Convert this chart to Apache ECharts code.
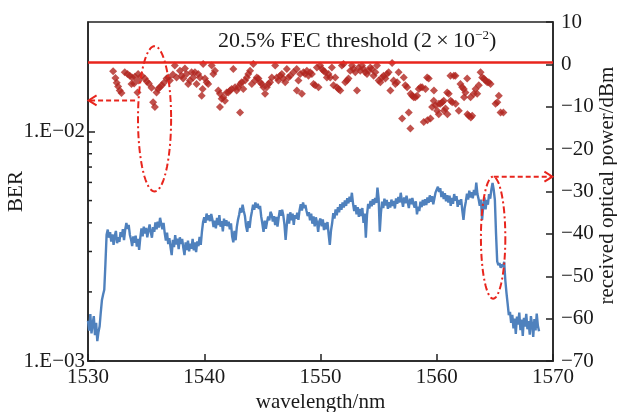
<!DOCTYPE html>
<html><head><meta charset="utf-8">
<script src="https://cdn.jsdelivr.net/npm/echarts@6/dist/echarts.min.js"></script>
<style>html,body{margin:0;padding:0;background:#fff}#c{width:617px;height:412px}</style>
</head><body><div id="c"></div>
<script>
// ---- data ----
const berWavelength = [
1532.16,1532.36,1532.47,1532.59,1532.73,1532.88,1533.16,1533.40,1533.59,1533.79,1534.03,1533.74,1533.97,1534.31,1534.37,1534.63,1534.89,1535.06,1535.23,1535.47,
1534.26,1535.60,1535.75,1535.90,1536.03,1536.18,1536.35,1536.53,1536.76,1536.90,1537.04,1537.30,1537.47,1537.62,1537.91,1538.05,1538.19,1538.34,1538.48,1538.62,
1538.77,1538.91,1539.05,1539.20,1539.34,1539.48,1539.63,1539.86,1539.91,1540.06,1540.21,1540.34,1540.64,1540.78,1540.92,1539.78,1541.21,1541.35,1541.50,1541.64,
1541.78,1541.93,1542.07,1541.35,1542.22,1542.36,1542.50,1542.65,1542.79,1542.93,1543.08,1543.10,1543.22,1543.36,1543.51,1543.66,1543.79,1543.94,1544.09,1544.22,
1544.37,1544.52,1544.66,1544.80,1544.95,1545.09,1545.23,1545.38,1545.52,1545.66,1545.81,1546.10,1546.24,1546.38,1546.53,1546.67,1546.81,1546.96,1547.10,1547.24,
1547.39,1547.67,1547.97,1548.10,1548.25,1547.95,1548.40,1548.53,1548.68,1548.83,1548.97,1549.11,1549.26,1549.40,1549.54,1549.69,1549.83,1549.97,1550.12,1550.26,
1550.41,1550.55,1550.69,1550.84,1550.98,1551.12,1551.27,1551.41,1551.55,1551.70,1551.84,1551.98,1552.13,1552.28,1552.41,1552.56,1552.71,1552.84,1552.99,1553.14,
1553.28,1553.42,1553.57,1553.71,1553.85,1554.00,1554.14,1554.28,1554.43,1554.57,1554.72,1554.86,1555.00,1555.15,1555.29,1555.43,1555.58,1555.72,1555.86,1556.01,
1556.16,1556.29,1556.44,1556.59,1556.72,1557.02,1557.16,1557.30,1557.45,1557.59,1557.73,1557.75,1557.88,1558.02,1558.16,1558.31,1558.45,1558.60,1558.74,1558.88,
1559.03,1559.17,1559.20,1559.31,1559.46,1559.60,1559.74,1559.76,1559.89,1560.03,1560.17,1560.19,1560.32,1560.47,1560.60,1560.62,1560.75,1560.90,1560.92,1561.03,
1561.18,1561.20,1561.33,1561.47,1561.61,1561.63,1561.90,1562.04,1562.19,1562.33,1562.35,1562.47,1562.62,1562.64,1562.76,1562.91,1562.93,1563.05,1563.19,1563.34,
1563.48,1563.62,1563.77,1563.91,1564.05,1564.20,1564.34,1564.48,1564.63,1565.06,1565.21,1565.34,1565.49,1565.73
];
const berValues = [
0.0183,0.0171,0.0163,0.0157,0.0151,0.0147,0.0181,0.0178,0.0175,0.0172,0.0173,0.0161,0.0162,0.0178,0.0167,0.0175,0.0170,0.0165,0.0162,0.0155,
0.0148,0.0134,0.0128,0.0148,0.0153,0.0156,0.0159,0.0163,0.0170,0.0172,0.0167,0.0177,0.0194,0.0172,0.0184,0.0175,0.0170,0.0188,0.0178,0.0161,
0.0167,0.0181,0.0172,0.0181,0.0161,0.0178,0.0172,0.0153,0.0197,0.0170,0.0164,0.0161,0.0194,0.0178,0.0184,0.0143,0.0151,0.0146,0.0139,0.0141,
0.0136,0.0148,0.0148,0.0128,0.0151,0.0153,0.0187,0.0156,0.0151,0.0156,0.0121,0.0161,0.0164,0.0153,0.0167,0.0172,0.0178,0.0184,0.0161,0.0197,
0.0167,0.0172,0.0170,0.0164,0.0161,0.0156,0.0146,0.0156,0.0161,0.0164,0.0172,0.0194,0.0172,0.0167,0.0175,0.0178,0.0170,0.0164,0.0187,0.0172,
0.0175,0.0181,0.0151,0.0167,0.0178,0.0187,0.0146,0.0181,0.0178,0.0184,0.0175,0.0181,0.0178,0.0161,0.0159,0.0190,0.0156,0.0194,0.0187,0.0184,
0.0181,0.0172,0.0178,0.0172,0.0190,0.0159,0.0172,0.0156,0.0153,0.0151,0.0194,0.0197,0.0164,0.0167,0.0170,0.0184,0.0194,0.0187,0.0181,0.0151,
0.0190,0.0184,0.0194,0.0187,0.0181,0.0178,0.0184,0.0190,0.0187,0.0175,0.0181,0.0194,0.0167,0.0164,0.0172,0.0175,0.0170,0.0178,0.0181,0.0151,
0.0199,0.0167,0.0161,0.0164,0.0181,0.0114,0.0172,0.0159,0.0156,0.0121,0.0103,0.0146,0.0143,0.0141,0.0141,0.0143,0.0153,0.0156,0.0156,0.0110,
0.0153,0.0172,0.0112,0.0170,0.0114,0.0128,0.0136,0.0151,0.0130,0.0123,0.0119,0.0132,0.0132,0.0134,0.0136,0.0123,0.0126,0.0148,0.0119,0.0146,
0.0175,0.0136,0.0134,0.0175,0.0175,0.0132,0.0123,0.0161,0.0156,0.0153,0.0141,0.0148,0.0170,0.0119,0.0117,0.0141,0.0115,0.0117,0.0146,0.0153,
0.0146,0.0159,0.0181,0.0172,0.0170,0.0167,0.0164,0.0164,0.0161,0.0132,0.0134,0.0143,0.0121,0.0121
];
const berThreshold = 0.02;
const berMinorTicks = [0.002,0.003,0.004,0.005,0.006,0.007,0.008,0.009];

const powerStartWavelength = 1530.0;
const powerStepWavelength = 0.1;
const powerValues = [
-60.5,-62.8,-58.9,-63.5,-61.2,-59.4,-63.9,-61.0,-65.3,-63.2,
-61.8,-58.5,-55.6,-54.3,-53.2,-47.0,-40.2,-39.0,-40.9,-39.6,
-41.8,-40.1,-42.6,-40.5,-39.3,-42.2,-40.8,-41.9,-39.6,-40.7,
-38.9,-41.5,-39.0,-37.4,-38.8,-37.9,-40.2,-41.3,-42.9,-40.6,
-42.1,-40.4,-43.0,-41.2,-43.8,-40.9,-38.7,-40.6,-38.3,-39.9,
-38.6,-40.8,-39.2,-37.8,-39.6,-40.9,-38.4,-39.5,-37.3,-38.9,
-37.1,-38.5,-36.2,-37.6,-38.9,-37.4,-39.8,-41.6,-39.7,-42.4,
-41.0,-43.2,-45.0,-41.4,-43.1,-40.3,-42.5,-41.1,-43.6,-40.8,
-42.4,-41.2,-43.3,-45.0,-42.0,-43.8,-41.6,-44.1,-42.3,-43.5,
-41.2,-43.9,-42.0,-44.3,-41.8,-42.9,-40.7,-42.6,-39.5,-37.2,
-36.1,-37.4,-35.2,-36.8,-35.6,-37.0,-35.3,-36.6,-38.4,-36.9,
-38.7,-36.2,-37.9,-35.6,-38.3,-37.0,-39.4,-36.4,-38.1,-36.8,
-38.2,-37.1,-38.9,-37.5,-40.6,-42.0,-39.3,-41.5,-38.4,-36.7,
-35.5,-33.9,-35.0,-33.1,-34.6,-35.8,-38.2,-39.5,-37.0,-38.6,
-36.2,-34.7,-33.1,-34.3,-32.6,-33.8,-32.9,-34.1,-33.4,-35.9,
-37.6,-39.5,-36.9,-38.8,-37.2,-35.9,-36.8,-34.8,-35.4,-37.1,
-35.8,-37.9,-36.0,-38.3,-36.2,-34.4,-35.7,-34.3,-35.6,-37.8,
-41.4,-38.0,-35.3,-37.6,-34.9,-36.8,-35.2,-37.9,-35.6,-36.4,
-35.0,-36.7,-34.4,-33.0,-34.5,-32.6,-33.9,-33.2,-34.6,-35.8,
-34.9,-36.8,-35.2,-37.6,-35.9,-38.2,-36.1,-37.3,-39.5,-37.0,
-36.4,-38.2,-36.6,-39.1,-37.4,-38.9,-37.2,-40.1,-42.6,-39.3,
-37.5,-35.1,-36.4,-34.2,-35.6,-33.7,-34.9,-33.0,-34.3,-32.6,
-33.8,-32.1,-33.4,-31.6,-32.8,-31.2,-32.4,-30.3,-32.9,-34.6,
-33.2,-35.4,-33.7,-36.0,-34.1,-35.8,-33.9,-37.4,-35.2,-40.9,
-35.6,-32.9,-34.0,-32.2,-33.5,-31.8,-33.1,-31.5,-32.7,-29.1,
-31.6,-39.5,-35.0,-32.4,-33.9,-31.7,-33.3,-32.0,-34.1,-32.5,
-33.8,-31.9,-33.4,-32.2,-34.0,-31.6,-32.9,-31.3,-32.6,-30.3,
-32.1,-33.6,-31.4,-32.8,-31.0,-32.5,-33.9,-31.7,-33.0,-31.5,
-32.9,-33.8,-32.3,-35.4,-33.6,-34.6,-32.4,-33.7,-32.0,-33.3,
-31.8,-33.2,-31.4,-32.7,-30.9,-32.4,-31.1,-33.0,-31.6,-30.2,
-29.5,-28.9,-30.1,-29.2,-31.3,-30.0,-31.8,-30.4,-32.3,-30.9,
-32.6,-31.0,-33.4,-31.5,-32.9,-30.6,-32.2,-31.1,-33.6,-32.0,
-33.1,-31.8,-34.5,-36.7,-33.9,-32.4,-30.5,-31.9,-29.8,-31.4,
-30.2,-31.6,-29.6,-30.9,-27.9,-30.6,-31.8,-33.4,-31.9,-36.7,
-33.5,-31.4,-34.2,-32.0,-33.1,-30.6,-31.7,-29.5,-28.0,-29.6,
-32.0,-40.0,-46.5,-47.4,-46.9,-48.0,-47.2,-47.8,-46.6,-51.0,
-54.0,-56.5,-59.2,-58.4,-61.0,-59.1,-62.3,-60.0,-63.6,-59.5,
-61.4,-58.6,-62.7,-60.2,-64.1,-59.8,-61.9,-58.9,-62.5,-60.6,
-63.8,-59.4,-61.5,-64.3,-60.1,-62.8,-58.8,-61.7,-63.0
];

// annotation anchors in data units (wavelength, dBm on right axis)
const ellipseBER = {wlMin:1534.3, wlMax:1537.15, dbmMin:-30, dbmMax:4.3};
const ellipsePower = {wlMin:1563.8, wlMax:1565.9, dbmMin:-55.3, dbmMax:-26.5};
const arrowBER = {from:[1534.05, -8.5], to:[1530.05, -8.5]};
const arrowPower = {from:[1564.9, -26.5], to:[1569.95, -26.5]};

// ---- build ----
const FONT = 'Liberation Serif';
const INK = '#1a1a1a';
const txt = {fontFamily: FONT, fontSize: 21, color: INK};
const berData = berWavelength.map((w, i) => [w, berValues[i]]);
const powerData = powerValues.map((v, i) => [+(powerStartWavelength + i * powerStepWavelength).toFixed(1), v]);
const minorTickData = berMinorTicks.map(v => [1530, v]);

function berLabel(v) {
  const e = Math.round(Math.log10(v));
  const a = Math.abs(e);
  return '1.E' + (e < 0 ? '\u2212' : '+') + (a < 10 ? '0' : '') + a;
}

const chart = echarts.init(document.getElementById('c'), null, {renderer: 'canvas'});
chart.setOption({
  animation: false,
  backgroundColor: '#fff',
  title: {
    text: '20.5% FEC threshold (2\u2009\u00d7\u200910{sup|\u22122})',
    left: 218, top: 29, padding: 0,
    textStyle: {fontFamily: FONT, fontSize: 22, fontWeight: 'normal', color: INK, lineHeight: 24,
      rich: {sup: {fontFamily: FONT, fontSize: 13, fontWeight: 'normal', color: INK, verticalAlign: 'top'}}}
  },
  grid: {left: 88, right: 64, top: 22, bottom: 51, show: true, borderColor: '#222', borderWidth: 1.5,
    backgroundColor: 'transparent', containLabel: false, outerBoundsMode: 'none'},
  xAxis: {
    type: 'value', min: 1530, max: 1570, interval: 10,
    axisLine: {onZero: false, lineStyle: {color: '#222', width: 1.5}},
    axisTick: {inside: true, length: 7, lineStyle: {color: '#222', width: 1.5}},
    axisLabel: Object.assign({margin: 6, formatter: v => String(v)}, txt),
    splitLine: {show: false},
    name: 'wavelength/nm', nameLocation: 'middle', nameGap: 31, nameMoveOverlap: false, nameTextStyle: txt
  },
  yAxis: [
    {
      type: 'log', min: 0.001, max: 0.03, position: 'left',
      axisLine: {show: true, onZero: false, lineStyle: {color: '#222', width: 1.5}},
      axisTick: {inside: true, length: 7, lineStyle: {color: '#222', width: 1.5}},
      axisLabel: Object.assign({margin: 3, showMaxLabel: false, formatter: berLabel}, txt),
      splitLine: {show: false}, minorTick: {show: false},
      name: 'BER', nameLocation: 'middle', nameRotate: 90, nameGap: 61, nameMoveOverlap: false, nameTextStyle: txt
    },
    {
      type: 'value', min: -70, max: 10, interval: 10, position: 'right',
      axisLine: {show: true, onZero: false, lineStyle: {color: '#222', width: 1.5}},
      axisTick: {inside: true, length: 7, lineStyle: {color: '#222', width: 1.5}},
      axisLabel: Object.assign({margin: 8, formatter: v => String(v).replace('-', '\u2212')}, txt),
      splitLine: {show: false},
      name: 'received optical power/dBm', nameLocation: 'middle', nameRotate: 90, nameGap: 44, nameMoveOverlap: false,
      nameTextStyle: Object.assign({padding: [0, 0, 0, 12]}, txt)
    }
  ],
  series: [
    {
      type: 'line', name: 'power', xAxisIndex: 0, yAxisIndex: 1, data: powerData,
      showSymbol: false, symbol: 'none', lineStyle: {color: '#4f81bd', width: 2.4}, z: 2, silent: true
    },
    {
      type: 'scatter', name: 'BER', xAxisIndex: 0, yAxisIndex: 0, data: berData,
      symbol: 'diamond', symbolSize: 8, itemStyle: {color: '#b0261f'}, z: 3, silent: true,
      markLine: {silent: true, symbol: ['none', 'none'], label: {show: false},
        lineStyle: {color: '#e8251d', width: 2.5, type: 'solid'}, data: [{yAxis: berThreshold}]}
    },
    {
      type: 'custom', name: 'minorTicks', xAxisIndex: 0, yAxisIndex: 0, data: minorTickData, silent: true, z: 5,
      renderItem: function (params, api) {
        const p = api.coord([api.value(0), api.value(1)]);
        return {type: 'line', shape: {x1: p[0], y1: p[1], x2: p[0] + 4, y2: p[1]}, style: {stroke: '#222', lineWidth: 1.5}};
      }
    }
  ]
});

// ---- annotations, positioned from data coordinates ----
function px(wl, dbm) { return chart.convertToPixel({xAxisIndex: 0, yAxisIndex: 1}, [wl, dbm]); }
function ellipsePts(e) {
  const a = px(e.wlMin, e.dbmMin), b = px(e.wlMax, e.dbmMax);
  const cx = (a[0] + b[0]) / 2, cy = (a[1] + b[1]) / 2;
  const rx = Math.abs(b[0] - a[0]) / 2, ry = Math.abs(b[1] - a[1]) / 2;
  const pts = [];
  for (let k = 0; k <= 96; k++) {
    const t = k / 96 * Math.PI * 2;
    pts.push([cx + rx * Math.cos(t), cy + ry * Math.sin(t)]);
  }
  return pts;
}
function arrowEls(ar) {
  const f = px(ar.from[0], ar.from[1]), t = px(ar.to[0], ar.to[1]);
  const d = t[0] > f[0] ? 1 : -1;
  return [
    {type: 'line', shape: {x1: f[0], y1: f[1], x2: t[0] - d * 1, y2: t[1]}, style: {stroke: '#e8251d', lineWidth: 2, lineDash: [5, 3]}, z: 10},
    {type: 'polyline', shape: {points: [[t[0] - d * 8, t[1] - 5], [t[0], t[1]], [t[0] - d * 8, t[1] + 5]]}, style: {stroke: '#e8251d', lineWidth: 2, fill: null}, z: 10}
  ];
}
const red = '#e8251d';
chart.setOption({
  graphic: [
    {type: 'polyline', shape: {points: ellipsePts(ellipseBER)}, style: {stroke: red, lineWidth: 2, fill: null, lineDash: [7, 3, 2, 3]}, z: 10},
    {type: 'polyline', shape: {points: ellipsePts(ellipsePower)}, style: {stroke: red, lineWidth: 2, fill: null, lineDash: [7, 3, 2, 3]}, z: 10}
  ].concat(arrowEls(arrowBER)).concat(arrowEls(arrowPower))
});
</script>
</body></html>
